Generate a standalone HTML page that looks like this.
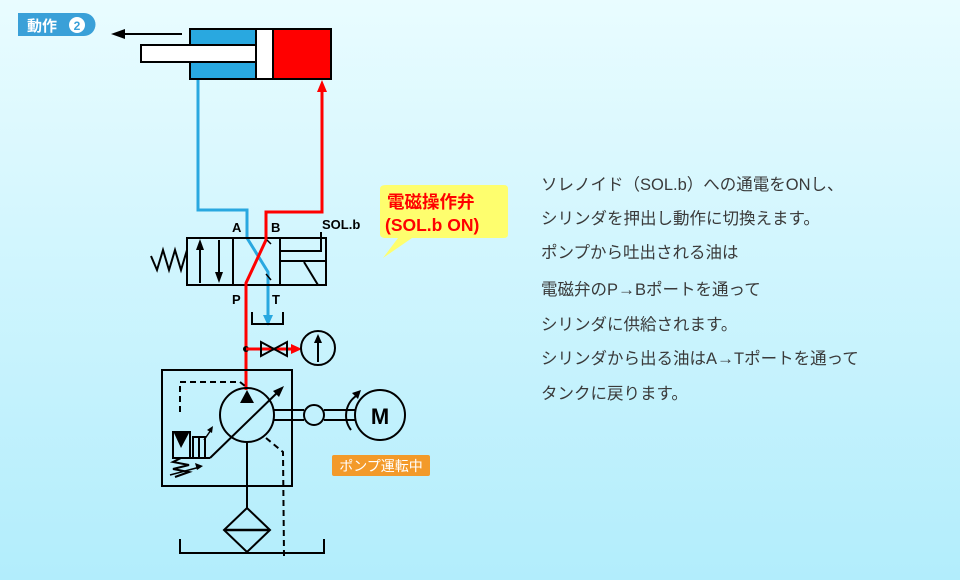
<!DOCTYPE html>
<html><head><meta charset="utf-8"><style>
html,body{margin:0;padding:0}
body{width:960px;height:580px;overflow:hidden;background:linear-gradient(#e9fcff,#b2edfc);position:relative;font-family:"Liberation Sans","Noto Sans CJK JP",sans-serif}
.t{position:absolute;left:541px;font-size:16.5px;color:#3a3a3a;white-space:nowrap;line-height:18px}
</style></head><body>
<svg width="960" height="580" style="position:absolute;left:0;top:0" font-family="Liberation Sans, Noto Sans CJK JP, sans-serif">
<!-- header tab -->
<path d="M18,13 H84 A11.5,11.5 0 0 1 84,36 H18z" fill="#3aa0d8"/>
<text x="27" y="31" font-size="15" font-weight="bold" fill="#fff">動作</text>
<circle cx="77" cy="25" r="8" fill="#fff"/>
<text x="77" y="30" font-size="12" font-weight="bold" fill="#3aa0d8" text-anchor="middle">2</text>
<!-- arrow -->
<line x1="182" y1="34" x2="120" y2="34" stroke="#000" stroke-width="2"/>
<path d="M111,34 L125,29 L125,39z" fill="#000"/>
<!-- cylinder -->
<rect x="190" y="29" width="66" height="50" fill="#29a8e0" stroke="#000" stroke-width="2"/>
<rect x="256" y="29" width="17" height="50" fill="#fff" stroke="#000" stroke-width="2"/>
<rect x="273" y="29" width="58" height="50" fill="#f00" stroke="#000" stroke-width="2"/>
<rect x="141" y="45" width="115" height="17" fill="#fff" stroke="#000" stroke-width="2"/>
<!-- blue line -->
<polyline points="198,80 198,210 247,210 247,238 268,272 268,320" fill="none" stroke="#29a8e0" stroke-width="3"/>
<path d="M268,326 L263,315 L273,315z" fill="#29a8e0"/>
<!-- tank T -->
<polyline points="252,312 252,324 283,324 283,312" fill="none" stroke="#000" stroke-width="2"/>
<!-- valve -->
<rect x="187" y="238" width="139" height="47" fill="none" stroke="#000" stroke-width="2"/>
<line x1="233" y1="238" x2="233" y2="285" stroke="#000" stroke-width="2"/>
<line x1="280" y1="238" x2="280" y2="285" stroke="#000" stroke-width="2"/>
<line x1="280" y1="238" x2="321" y2="238" stroke="#000" stroke-width="2"/>
<line x1="280" y1="251" x2="321" y2="251" stroke="#000" stroke-width="2"/>
<line x1="321" y1="232" x2="321" y2="252" stroke="#000" stroke-width="2"/>
<polyline points="281,261 326,261 326,285" fill="none" stroke="#000" stroke-width="2"/>
<line x1="304" y1="262" x2="318" y2="285" stroke="#000" stroke-width="2"/>
<line x1="200" y1="283" x2="200" y2="246" stroke="#000" stroke-width="2"/>
<path d="M200,239 L196,250 L204,250z" fill="#000"/>
<line x1="219" y1="240" x2="219" y2="276" stroke="#000" stroke-width="2"/>
<path d="M219,283 L215,272 L223,272z" fill="#000"/>
<polyline points="187,250 181,270 175,250 169,270 163,250 157,270 151,256" fill="none" stroke="#000" stroke-width="2"/>
<!-- pump vertical black line below pump -->
<line x1="247" y1="442" x2="247" y2="508" stroke="#000" stroke-width="2"/>
<!-- red line -->
<polyline points="246,390 246,283 266,240 266,212 322,212 322,90" fill="none" stroke="#f00" stroke-width="3"/>
<path d="M322,80 L317,92 L327,92z" fill="#f00"/>
<line x1="267" y1="240" x2="271" y2="244" stroke="#000" stroke-width="1.5"/>
<line x1="266" y1="274" x2="271" y2="280" stroke="#000" stroke-width="1.5"/>
<!-- labels -->
<g font-size="13" font-weight="bold" fill="#000">
<text x="232" y="232">A</text><text x="271" y="232">B</text>
<text x="232" y="304">P</text><text x="272" y="304">T</text>
<text x="322" y="229">SOL.b</text>
</g>
<!-- gauge line -->
<circle cx="246" cy="349" r="3" fill="#000"/>
<line x1="246" y1="349" x2="294" y2="349" stroke="#f00" stroke-width="3"/>
<path d="M302,349 L291,344 L291,354z" fill="#f00"/>
<path d="M261,342 L287,356 L287,342 L261,356z" fill="none" stroke="#000" stroke-width="2"/>
<circle cx="318" cy="348" r="17" fill="none" stroke="#000" stroke-width="2"/>
<line x1="318" y1="362" x2="318" y2="340" stroke="#000" stroke-width="2"/>
<path d="M318,334 L314,343 L322,343z" fill="#000"/>
<!-- pump unit -->
<rect x="162" y="370" width="130" height="116" fill="none" stroke="#000" stroke-width="2"/>
<polyline points="180,412 180,382 240,382 245,386" fill="none" stroke="#000" stroke-width="2" stroke-dasharray="6,4"/>
<circle cx="247" cy="415" r="27" fill="none" stroke="#000" stroke-width="2"/>
<path d="M247,390 L240,403 L254,403z" fill="#000"/>
<line x1="210" y1="458" x2="280" y2="390" stroke="#000" stroke-width="2"/>
<path d="M284,386 L273,391 L279,397z" fill="#000"/>
<polyline points="210,458 190,458" fill="none" stroke="#000" stroke-width="2"/>
<polyline points="266,438 283,452 284,556" fill="none" stroke="#000" stroke-width="2" stroke-dasharray="6,4"/>
<rect x="173" y="432" width="17" height="26" fill="none" stroke="#000" stroke-width="2"/>
<path d="M174,433 L189,433 L181,448z" fill="#000"/>
<polyline points="193,458 193,437 205,437 205,458" fill="none" stroke="#000" stroke-width="2"/>
<line x1="199" y1="437" x2="199" y2="458" stroke="#000" stroke-width="2"/>
<line x1="204" y1="440" x2="211" y2="430" stroke="#000" stroke-width="1.5"/>
<path d="M213,426 L207,430 L212,433z" fill="#000"/>
<polyline points="181,458 173,462 189,465 173,469 189,472 175,477" fill="none" stroke="#000" stroke-width="2"/>
<line x1="170" y1="475" x2="200" y2="467" stroke="#000" stroke-width="1.5"/>
<path d="M203,466 L195,463 L197,470z" fill="#000"/>
<!-- shaft / motor -->
<line x1="273" y1="410" x2="304" y2="410" stroke="#000" stroke-width="2"/>
<line x1="273" y1="420" x2="304" y2="420" stroke="#000" stroke-width="2"/>
<circle cx="314" cy="415" r="10" fill="none" stroke="#000" stroke-width="2"/>
<line x1="324" y1="410" x2="356" y2="410" stroke="#000" stroke-width="2"/>
<line x1="324" y1="420" x2="356" y2="420" stroke="#000" stroke-width="2"/>
<circle cx="380" cy="415" r="25" fill="none" stroke="#000" stroke-width="2"/>
<path d="M351,430 A24,24 0 0 1 356,396" fill="none" stroke="#000" stroke-width="2"/>
<path d="M361,390 L352,393 L358,399z" fill="#000"/>
<text x="380" y="424" font-size="22" font-weight="bold" text-anchor="middle">M</text>
<!-- filter / tank -->
<path d="M247,508 L270,530 L247,552 L224,530z" fill="none" stroke="#000" stroke-width="2"/>
<line x1="224" y1="530" x2="270" y2="530" stroke="#000" stroke-width="2.5"/>
<polyline points="180,539 180,553 324,553 324,539" fill="none" stroke="#000" stroke-width="2"/>
<!-- orange label -->
<rect x="332" y="455" width="98" height="21" rx="2" fill="#f39a2a"/>
<text x="381" y="471" font-size="14" fill="#fff" text-anchor="middle">ポンプ運転中</text>
<!-- callout -->
<path d="M386,185 H504 Q508,185 508,189 V234 Q508,238 504,238 H412 L383,258 L398,238 H386 Q380,238 380,234 V189 Q380,185 386,185z" fill="#fefe6e"/>
<text x="387" y="208" font-size="17.5" font-weight="bold" fill="#f00">電磁操作弁</text>
<text x="385" y="231" font-size="17.5" font-weight="bold" fill="#f00">(SOL.b ON)</text>
</svg>
<div class="t" style="top:176px">ソレノイド（SOL.b）への通電をONし、</div>
<div class="t" style="top:210px">シリンダを押出し動作に切換えます。</div>
<div class="t" style="top:244px">ポンプから吐出される油は</div>
<div class="t" style="top:281px">電磁弁のP<span style="font-size:17px">→</span>Bポートを通って</div>
<div class="t" style="top:316px">シリンダに供給されます。</div>
<div class="t" style="top:350px">シリンダから出る油はA<span style="font-size:17px">→</span>Tポートを通って</div>
<div class="t" style="top:385px">タンクに戻ります。</div>
</body></html>
